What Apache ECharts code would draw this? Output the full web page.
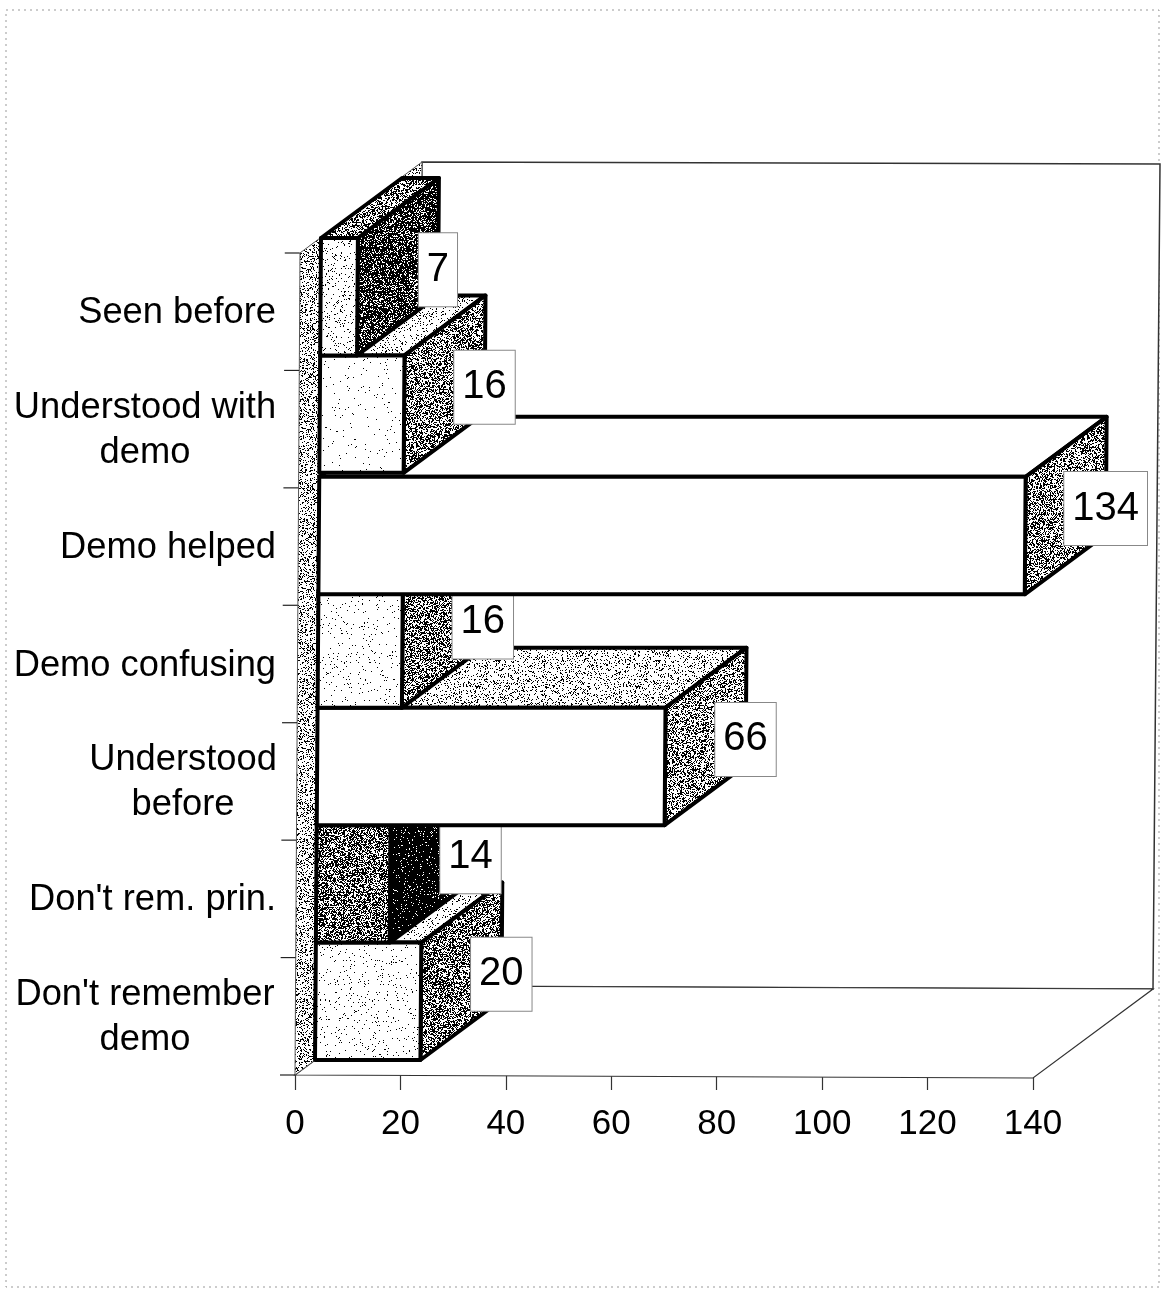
<!DOCTYPE html>
<html><head><meta charset="utf-8">
<style>html,body{margin:0;padding:0;background:#fff}#c{width:1161px;height:1290px}</style>
<script src="https://cdn.jsdelivr.net/npm/echarts@6/dist/echarts.min.js"></script>
</head><body><div id="c"></div>
<script>
const categories = ["Seen before","Understood with\ndemo","Demo helped","Demo confusing","Understood\nbefore","Don't rem. prin.","Don't remember\ndemo"];
const values = [7,16,134,16,66,14,20];
const xTicks = [0,20,40,60,80,100,120,140];
// black-dot density of each bar's faces (front, side, top)
const frontShade = [0.07,0.015,0,0.03,0,0.55,0.035];
const sideShade  = [0.74,0.46,0.44,0.50,0.40,0.93,0.52];
const topShade   = [0.45,0.12,0,0.12,0.17,0.3,0.12];
const wallShade = 0.26;
const rowNudge = [0,0,4,0,0,0,0];   // the scanned page is slightly warped

function pattern(p, seed){
  if(p<=0) return '#fff';
  const n=160, cv=document.createElement('canvas'); cv.width=cv.height=n;
  const g=cv.getContext('2d'); g.fillStyle='#fff'; g.fillRect(0,0,n,n); g.fillStyle='#000';
  let s=seed*7919+12345;
  const next=()=>{s=(s*1103515245+12345)&0x7fffffff;return ((s>>>8)&0xffff)/65536;};
  for(let y=0;y<n;y++)for(let x=0;x<n;x++){ if(next()<p) g.fillRect(x,y,1,1); }
  return {image:cv,repeat:'repeat'};
}
const fronts=frontShade.map((p,i)=>pattern(p,i+1));
const sides=sideShade.map((p,i)=>pattern(p,i+11));
const tops=topShade.map((p,i)=>pattern(p,i+21));
const wall=pattern(wallShade,40);

const WX=20,WY=-15,DX=81,DY=-60;      // wall inset and bar depth
const BX=120,BY=-89;                   // full depth of the box
const axisTilt=0.0058, barTilt=0.0073, floorTilt=3/738;

const chart=echarts.init(document.getElementById('c'),null,{renderer:'canvas'});
const FONT='"Liberation Sans", Arial, sans-serif';
const FS=36.3;
const rich={
  w262:{width:262,align:'center',fontSize:FS,fontFamily:FONT,color:'#000',lineHeight:45},
  w186:{width:186,align:'center',fontSize:FS,fontFamily:FONT,color:'#000',lineHeight:45},
  s:{fontSize:FS,fontFamily:FONT,color:'#000',lineHeight:45}
};
function catLabel(v){
  if(v.indexOf('\n')<0) return '{s|'+v+'}';
  const k=v.indexOf('before')>=0?'w186':'w262';
  return v.split('\n').map(t=>'{'+k+'|'+t+'}').join('\n');
}
function renderFrame(params,api){
  const o=api.coord([0,categories.length-1]), band=api.size([0,1])[1];
  const xEnd=api.coord([140,categories.length-1])[0];
  const yB=o[1]+band/2, yT=yB-band*categories.length;
  const x0=o[0], dropR=(xEnd-x0)*floorTilt;
  const topL=[x0+127,yT+BY-2], topR=[xEnd+BX+7,yT+BY];
  const botL=[x0+BX,yB+BY], botR=[xEnd+BX,yB+dropR+BY];
  const ln={stroke:'#222',lineWidth:1.2,fill:null};
  const ch=[];
  ch.push({type:'polygon',shape:{points:[botL,topL,topR,botR]},style:{fill:'#fff',stroke:'#333',lineWidth:1.5}});
  ch.push({type:'polygon',shape:{points:[[x0,yB],[xEnd,yB+dropR],botR,botL]},style:{fill:'#fff',stroke:'#333',lineWidth:1.2}});
  ch.push({type:'polygon',shape:{points:[[x0,yB],[x0+5,yT],topL,botL]},style:{fill:wall,stroke:'#555',lineWidth:1}});
  for(let i=0;i<=categories.length;i++){
    const y=yT+band*i, x=x0+(yB-y)*axisTilt;
    ch.push({type:'line',shape:{x1:x-15,y1:y,x2:x,y2:y},style:ln});
  }
  return {type:'group',children:ch};
}
function renderBar(params,api){
  const v=api.value(0), cat=api.value(1), i=cat;
  const c=api.coord([v,cat]), c0=api.coord([0,cat]), band=api.size([0,1])[1];
  const len=c[0]-c0[0];
  const yT=c[1]-band/2+WY+rowNudge[i], yB=c[1]+band/2+WY+rowNudge[i];
  const left=y=>c0[0]+WX+(1060-y)*barTilt;
  const tl=[left(yT),yT], bl=[left(yB),yB], tr=[tl[0]+len,yT], br=[bl[0]+len,yB];
  const tlb=[tl[0]+DX,yT+DY], trb=[tr[0]+DX,yT+DY], brb=[br[0]+DX,yB+DY];
  const st={stroke:'#000',lineWidth:4,lineJoin:'round'};
  return {type:'group',children:[
    {type:'polygon',shape:{points:[tl,tr,trb,tlb]},style:Object.assign({fill:tops[i]},st)},
    {type:'polygon',shape:{points:[tr,br,brb,trb]},style:Object.assign({fill:sides[i]},st)},
    {type:'polygon',shape:{points:[tl,tr,br,bl]},style:Object.assign({fill:fronts[i]},st)},
    {type:'text',x:tr[0]+DX-1,y:(yT+yB)/2-27,style:{
      text:String(v),fontSize:40,fontFamily:FONT,fill:'#000',align:'center',verticalAlign:'middle',
      backgroundColor:'#fff',borderColor:'#888',borderWidth:1,padding:[16,8,17,8]}}
  ]};
}
// stacked rows are painted from the bottom row upward: each row rests on the one below
const barData=values.map((v,i)=>[v,i]).reverse();
chart.setOption({
  animation:false,
  backgroundColor:'#fff',
  graphic:[{type:'rect',silent:true,z:-10,shape:{x:6,y:10,width:1153,height:1277},
    style:{fill:'#fff',stroke:'#999',lineWidth:1,lineDash:[2,4]}}],
  grid:{left:295,top:253,width:738,height:822},
  xAxis:{type:'value',min:xTicks[0],max:xTicks[xTicks.length-1],interval:20,position:'bottom',
    splitLine:{show:false},axisLine:{show:false},
    axisTick:{show:true,length:15,lineStyle:{color:'#333',width:1.2}},
    axisLabel:{fontSize:35,fontFamily:FONT,color:'#000',margin:32,hideOverlap:false,showMinLabel:true,showMaxLabel:true}},
  yAxis:{type:'category',data:categories,inverse:true,axisLine:{show:false},axisTick:{show:false},
    axisLabel:{interval:0,align:'right',margin:19,padding:[3,0,0,0],formatter:catLabel,rich:rich}},
  series:[
    {type:'custom',coordinateSystem:'cartesian2d',silent:true,renderItem:renderFrame,data:[[0,categories.length-1]],z:1,clip:false},
    {type:'custom',coordinateSystem:'cartesian2d',silent:true,renderItem:renderBar,
      data:barData,encode:{x:0,y:1},z:2,clip:false}
  ]
});
</script></body></html>
